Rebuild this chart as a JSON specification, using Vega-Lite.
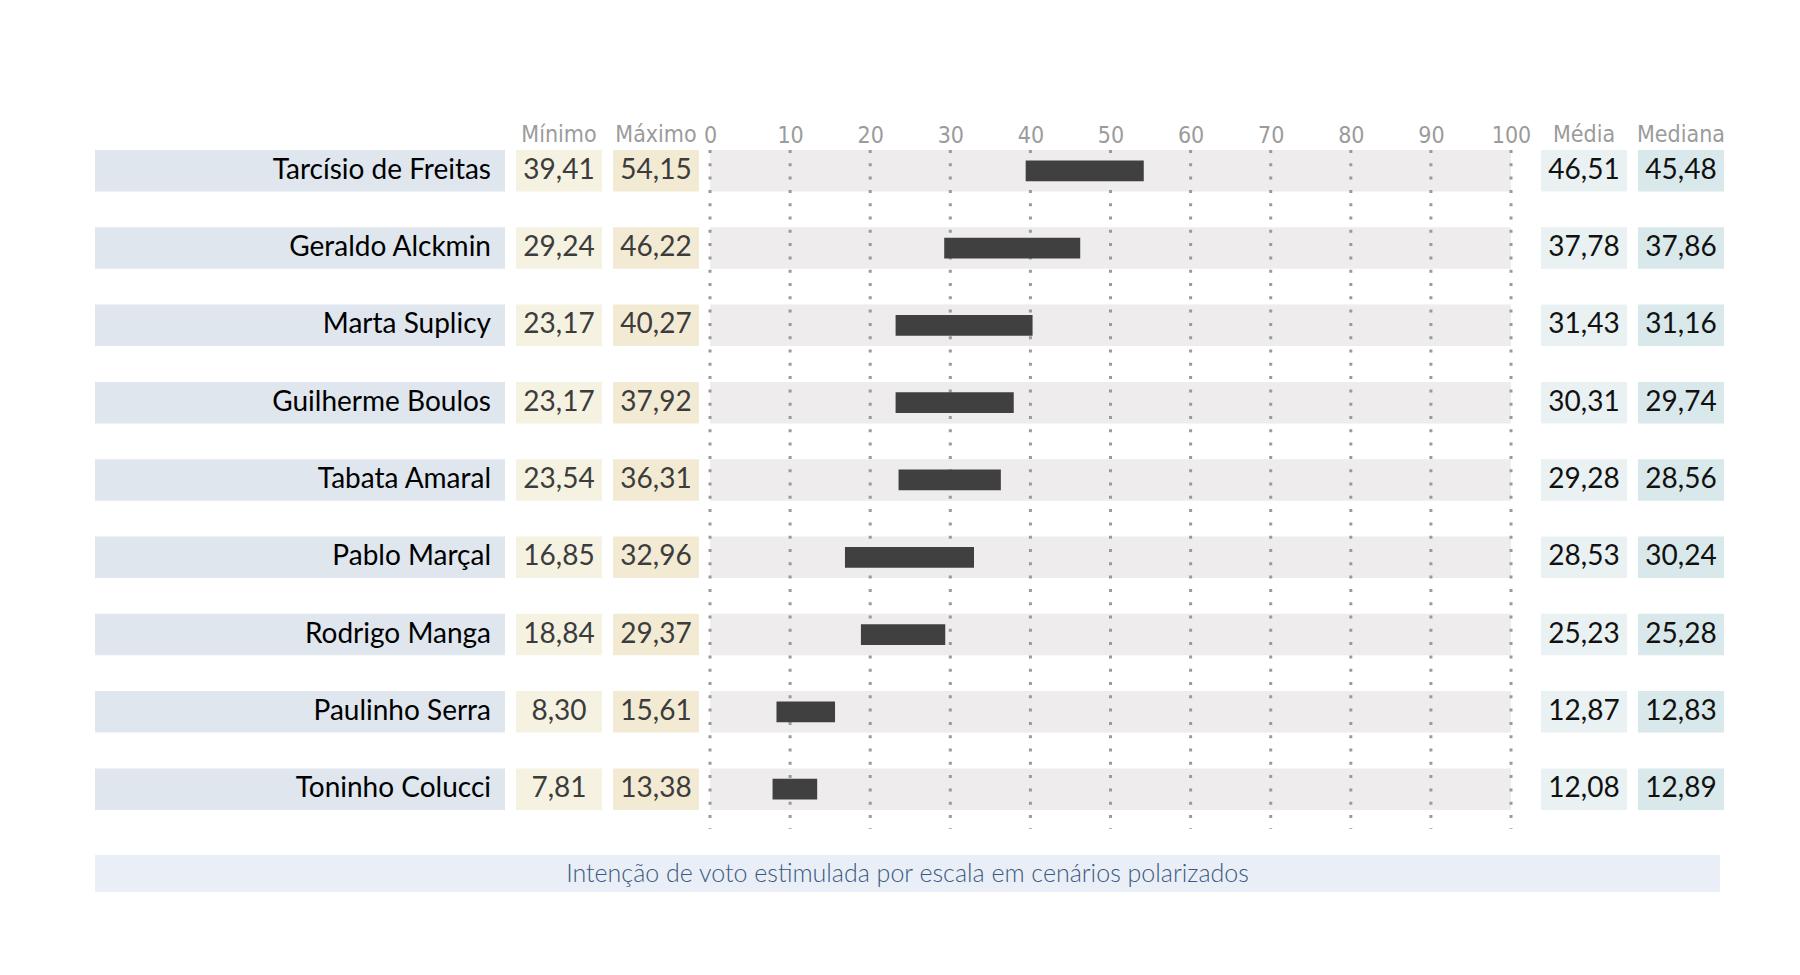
{
  "$schema": "https://vega.github.io/schema/vega-lite/v6.json",
  "background": "white",
  "padding": {"left": 95, "top": 124, "right": 0, "bottom": 0},
  "config": {
    "view": {"stroke": null},
    "locale": {"number": {"decimal": ",", "thousands": ".", "grouping": [3], "currency": ["R$ ", ""]}},
    "title": {"font": "DejaVu Sans Condensed, sans-serif", "fontSize": 23, "fontWeight": "normal", "color": "#9b9b9b", "anchor": "middle", "baseline": "alphabetic", "offset": 3}
  },
  "datasets": {
    "rows": [
      {"name": "Tarcísio de Freitas", "min": 39.41, "max": 54.15, "media": 46.51, "mediana": 45.48},
      {"name": "Geraldo Alckmin", "min": 29.24, "max": 46.22, "media": 37.78, "mediana": 37.86},
      {"name": "Marta Suplicy", "min": 23.17, "max": 40.27, "media": 31.43, "mediana": 31.16},
      {"name": "Guilherme Boulos", "min": 23.17, "max": 37.92, "media": 30.31, "mediana": 29.74},
      {"name": "Tabata Amaral", "min": 23.54, "max": 36.31, "media": 29.28, "mediana": 28.56},
      {"name": "Pablo Marçal", "min": 16.85, "max": 32.96, "media": 28.53, "mediana": 30.24},
      {"name": "Rodrigo Manga", "min": 18.84, "max": 29.37, "media": 25.23, "mediana": 25.28},
      {"name": "Paulinho Serra", "min": 8.30, "max": 15.61, "media": 12.87, "mediana": 12.83},
      {"name": "Toninho Colucci", "min": 7.81, "max": 13.38, "media": 12.08, "mediana": 12.89}
    ],
    "ticks": [{"v": 0}, {"v": 10}, {"v": 20}, {"v": 30}, {"v": 40}, {"v": 50}, {"v": 60}, {"v": 70}, {"v": 80}, {"v": 90}, {"v": 100}],
    "footer": [{"label": "Intenção de voto estimulada por escala em cenários polarizados"}]
  },
  "spacing": 24,
  "vconcat": [
    {
      "spacing": 11,
      "bounds": "flush",
      "hconcat": [
        {
          "width": 410, "height": 679,
          "data": {"name": "rows"},
          "layer": [
            {"mark": {"type": "rect", "color": "#dfe6ed"},
             "encoding": {
               "x": {"datum": 0, "type": "quantitative", "scale": {"domain": [0, 1], "nice": false}, "axis": null},
               "x2": {"datum": 1},
               "y": {"field": "name", "type": "nominal", "sort": null, "axis": null, "scale": {"type": "band", "paddingInner": 0.463, "paddingOuter": 0.1235, "align": 0}}}},
            {"mark": {"type": "text", "align": "right", "baseline": "middle", "dx": -14, "font": "Lato", "fontSize": 28, "color": "#000000"},
             "encoding": {
               "x": {"datum": 1, "type": "quantitative"},
               "y": {"field": "name", "type": "nominal", "sort": null, "axis": null}, "text": {"field": "name"}}}
          ]
        },
        {
          "width": 86, "height": 679,
          "title": {"text": "Mínimo"},
          "data": {"name": "rows"},
          "layer": [
            {"mark": {"type": "rect", "color": "#f5f2e2"},
             "encoding": {
               "x": {"datum": 0, "type": "quantitative", "scale": {"domain": [0, 1], "nice": false}, "axis": null},
               "x2": {"datum": 1},
               "y": {"field": "name", "type": "nominal", "sort": null, "axis": null, "scale": {"type": "band", "paddingInner": 0.463, "paddingOuter": 0.1235, "align": 0}}}},
            {"mark": {"type": "text", "align": "center", "baseline": "middle", "font": "Lato", "fontSize": 28, "color": "#3c3c3c"},
             "encoding": {
               "x": {"datum": 0.5, "type": "quantitative"},
               "y": {"field": "name", "type": "nominal", "sort": null, "axis": null}, "text": {"field": "min", "type": "quantitative", "format": ".2f"}}}
          ]
        },
        {
          "width": 86, "height": 679,
          "title": {"text": "Máximo"},
          "data": {"name": "rows"},
          "layer": [
            {"mark": {"type": "rect", "color": "#f3ead4"},
             "encoding": {
               "x": {"datum": 0, "type": "quantitative", "scale": {"domain": [0, 1], "nice": false}, "axis": null},
               "x2": {"datum": 1},
               "y": {"field": "name", "type": "nominal", "sort": null, "axis": null, "scale": {"type": "band", "paddingInner": 0.463, "paddingOuter": 0.1235, "align": 0}}}},
            {"mark": {"type": "text", "align": "center", "baseline": "middle", "font": "Lato", "fontSize": 28, "color": "#3c3c3c"},
             "encoding": {
               "x": {"datum": 0.5, "type": "quantitative"},
               "y": {"field": "name", "type": "nominal", "sort": null, "axis": null}, "text": {"field": "max", "type": "quantitative", "format": ".2f"}}}
          ]
        },
        {
          "width": 820, "height": 679,
          "data": {"name": "rows"},
          "layer": [
            {"mark": {"type": "rect", "color": "#eeecec"},
             "encoding": {
               "x": {"datum": 0, "type": "quantitative",
                 "scale": {"domain": [0, 102.37], "nice": false, "zero": false},
                 "axis": {"orient": "top", "values": [0, 10, 20, 30, 40, 50, 60, 70, 80, 90, 100], "grid": false, "domain": false, "ticks": false, "tickSize": 0, "labelPadding": 8, "labelBaseline": "alphabetic", "labelFont": "DejaVu Sans Condensed, sans-serif", "labelFontSize": 23, "labelColor": "#9b9b9b", "labelFlush": false, "labelOverlap": false, "title": null}},
               "x2": {"datum": 100},
               "y": {"field": "name", "type": "nominal", "sort": null, "axis": null, "scale": {"type": "band", "paddingInner": 0.463, "paddingOuter": 0.1235, "align": 0}}}},
            {"data": {"name": "ticks"},
             "mark": {"type": "rule", "color": "#9a9a9a", "strokeWidth": 3, "strokeDash": [3, 10.3]},
             "encoding": {"x": {"field": "v", "type": "quantitative"}}},
            {"mark": {"type": "bar", "color": "#404040", "height": {"band": 0.5}},
             "encoding": {
               "x": {"field": "min", "type": "quantitative"},
               "x2": {"field": "max"},
               "y": {"field": "name", "type": "nominal", "sort": null, "axis": null}}}
          ]
        },
        {
          "width": 86, "height": 679,
          "title": {"text": "Média"},
          "data": {"name": "rows"},
          "layer": [
            {"mark": {"type": "rect", "color": "#e9f1f2"},
             "encoding": {
               "x": {"datum": 0, "type": "quantitative", "scale": {"domain": [0, 1], "nice": false}, "axis": null},
               "x2": {"datum": 1},
               "y": {"field": "name", "type": "nominal", "sort": null, "axis": null, "scale": {"type": "band", "paddingInner": 0.463, "paddingOuter": 0.1235, "align": 0}}}},
            {"mark": {"type": "text", "align": "center", "baseline": "middle", "font": "Lato", "fontSize": 28, "color": "#111111"},
             "encoding": {
               "x": {"datum": 0.5, "type": "quantitative"},
               "y": {"field": "name", "type": "nominal", "sort": null, "axis": null}, "text": {"field": "media", "type": "quantitative", "format": ".2f"}}}
          ]
        },
        {
          "width": 86, "height": 679,
          "title": {"text": "Mediana"},
          "data": {"name": "rows"},
          "layer": [
            {"mark": {"type": "rect", "color": "#d9e8ea"},
             "encoding": {
               "x": {"datum": 0, "type": "quantitative", "scale": {"domain": [0, 1], "nice": false}, "axis": null},
               "x2": {"datum": 1},
               "y": {"field": "name", "type": "nominal", "sort": null, "axis": null, "scale": {"type": "band", "paddingInner": 0.463, "paddingOuter": 0.1235, "align": 0}}}},
            {"mark": {"type": "text", "align": "center", "baseline": "middle", "font": "Lato", "fontSize": 28, "color": "#111111"},
             "encoding": {
               "x": {"datum": 0.5, "type": "quantitative"},
               "y": {"field": "name", "type": "nominal", "sort": null, "axis": null}, "text": {"field": "mediana", "type": "quantitative", "format": ".2f"}}}
          ]
        }
      ]
    },
    {
      "width": 1625, "height": 37,
      "data": {"name": "footer"},
      "layer": [
        {"mark": {"type": "rect", "color": "#eaeff7"},
         "encoding": {
           "x": {"datum": 0, "type": "quantitative", "scale": {"domain": [0, 1], "nice": false}, "axis": null},
           "x2": {"datum": 1},
           "y": {"datum": 0, "type": "quantitative", "scale": {"domain": [0, 1], "nice": false}, "axis": null},
           "y2": {"datum": 1}}},
        {"mark": {"type": "text", "align": "center", "baseline": "middle", "font": "Lato", "fontWeight": 300, "fontSize": 25, "color": "#3a5a80"},
         "encoding": {
           "x": {"datum": 0.5, "type": "quantitative"},
           "y": {"datum": 0.5, "type": "quantitative"},
           "text": {"field": "label"}}}
      ]
    }
  ]
}
